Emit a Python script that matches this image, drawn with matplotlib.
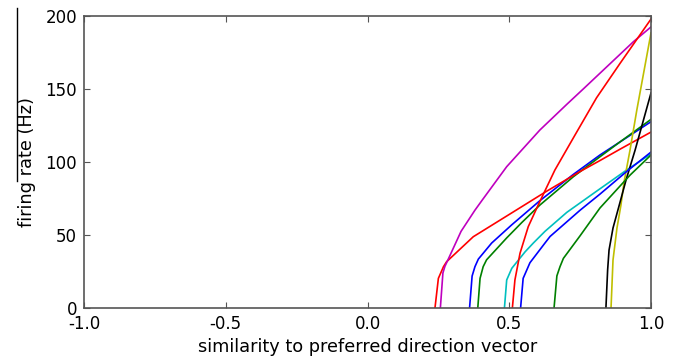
import matplotlib
matplotlib.use("Agg")
import matplotlib.pyplot as plt
from matplotlib.lines import Line2D

plt.rcParams["axes.unicode_minus"] = False
plt.rcParams["font.family"] = "DejaVu Sans"

# Tuning curves: (similarity, firing rate in Hz)
red1_x = [0.238, 0.250, 0.268, 0.279, 0.373, 0.491, 0.632, 0.750, 0.820, 0.891, 1.0]
red1_y = [0, 20.3, 28.3, 31.7, 48.8, 63.0, 80.0, 93.5, 101.0, 108.8, 120.5]

magenta_x = [0.257, 0.266, 0.273, 0.285, 0.330, 0.379, 0.405, 0.491, 0.608, 0.703, 0.761, 0.938, 1.0]
magenta_y = [0, 24.0, 28.5, 33.5, 52.5, 67.0, 74.0, 96.8, 121.9, 139.5, 150.0, 182.4, 192.5]

blue1_x = [0.360, 0.369, 0.379, 0.391, 0.438, 0.509, 0.608, 0.726, 0.820, 1.0]
blue1_y = [0, 21.9, 28.3, 33.5, 44.5, 57.0, 73.5, 91.5, 104.8, 127.6]

green1_x = [0.389, 0.397, 0.408, 0.420, 0.491, 0.544, 0.608, 0.726, 0.820, 0.891, 1.0]
green1_y = [0, 20.3, 28.3, 33.0, 48.0, 58.5, 70.5, 89.9, 103.6, 113.8, 129.2]

cyan_x = [0.483, 0.491, 0.509, 0.556, 0.585, 0.626, 0.703, 0.808, 0.914, 1.0]
cyan_y = [0, 19.2, 27.2, 38.5, 44.5, 52.5, 65.5, 80.0, 94.5, 105.5]

red2_x = [0.511, 0.520, 0.538, 0.567, 0.602, 0.661, 0.732, 0.808, 0.891, 1.0]
red2_y = [0, 19.2, 37.5, 55.7, 70.5, 94.5, 118.5, 144.0, 167.6, 197.9]

blue2_x = [0.540, 0.549, 0.573, 0.626, 0.644, 0.750, 0.820, 0.914, 1.0]
blue2_y = [0, 20.3, 31.0, 44.5, 49.0, 67.0, 78.0, 93.5, 106.8]

green2_x = [0.658, 0.668, 0.679, 0.691, 0.750, 0.820, 0.926, 1.0]
green2_y = [0, 22.0, 28.3, 34.0, 49.5, 68.5, 91.0, 104.8]

black_x = [0.841, 0.847, 0.852, 0.866, 0.891, 0.912, 0.944, 1.0]
black_y = [0, 26.0, 39.7, 54.8, 72.6, 87.7, 108.2, 147.3]

yellow_x = [0.859, 0.866, 0.880, 0.894, 0.905, 0.926, 0.950, 1.0]
yellow_y = [0, 32.9, 54.8, 70.5, 86.3, 108.2, 135.6, 188.4]

curves = [
    (blue1_x, blue1_y, "b"),
    (green1_x, green1_y, "g"),
    (red1_x, red1_y, "r"),
    (cyan_x, cyan_y, "c"),
    (magenta_x, magenta_y, "m"),
    (yellow_x, yellow_y, "y"),
    (black_x, black_y, "k"),
    (blue2_x, blue2_y, "b"),
    (green2_x, green2_y, "g"),
    (red2_x, red2_y, "r"),
]
colors = {"b": "#0000ff", "g": "#008000", "r": "#ff0000", "c": "#00bfbf",
          "m": "#bf00bf", "y": "#bfbf00", "k": "#000000"}

xticks = [-1.0, -0.5, 0.0, 0.5, 1.0]
yticks = [0, 50, 100, 150, 200]

fig = plt.figure(figsize=(6.81, 3.61), dpi=100)
ax = fig.add_axes([84 / 681, 53 / 361, 567 / 681, 292 / 361])

for xs, ys, c in curves:
    ax.plot(xs, ys, color=colors[c], linewidth=1.2)

ax.set_xlim(-1, 1)
ax.set_ylim(0, 200)
ax.set_xticks(xticks)
ax.set_xticklabels(["%.1f" % t for t in xticks])
ax.set_yticks(yticks)
ax.tick_params(direction="in", top=True, right=True, length=4,
               labelsize=12, color="#555555", pad=5)
for s in ax.spines.values():
    s.set_color("#555555")
    s.set_linewidth(1.2)

ax.set_xlabel("similarity to preferred direction vector", fontsize=12.8, labelpad=4)
ax.set_ylabel("firing rate (Hz)", fontsize=12.8, labelpad=7)

# thin black rule at the left edge of the page
fig.add_artist(Line2D([17 / 681, 17 / 681], [1 - 181 / 361, 1 - 8 / 361],
                      color="black", linewidth=1.0))

fig.savefig("out.png", dpi=100)
